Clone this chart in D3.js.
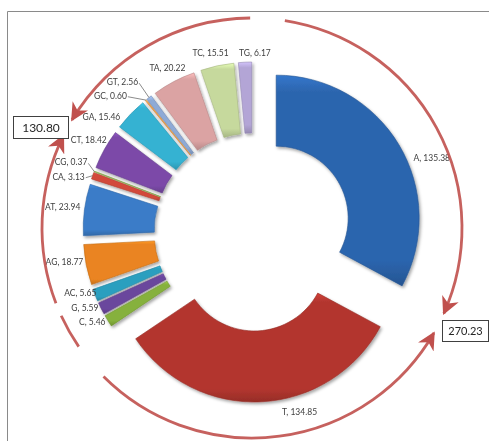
<!DOCTYPE html>
<html><head><meta charset="utf-8">
<script src="https://cdn.jsdelivr.net/npm/d3@7"></script>
<style>html,body{margin:0;padding:0;background:#fff;}svg{display:block;}</style>
</head><body>
<script>
// ---- data ----
const categories = ["A","T","C","G","AC","AG","AT","CA","CG","CT","GA","GC","GT","TA","TC","TG"];
const values = [135.38,134.85,5.46,5.59,5.65,18.77,23.94,3.13,0.37,18.42,15.46,0.60,2.56,20.22,15.51,6.17];
const colors = ["#2c65ae","#b3362f","#86b13c","#6b469d","#2c9fbf","#ea8420","#3a7cc8","#d24a3a",
                "#9bbb59","#7b4aa8","#34b2d2","#f2a24f","#8eaad6","#dba3a3","#c6d99d","#b3a5d6"];
const calloutLabels = ["270.23","130.80"];

// ---- layout ----
const W = 489, H = 441;
const cx = 253, cy = 232, explode = 27, rIn = 72, rOut = 143;
const acx = 252, acy = 228, ar = 210;
const calloutArcs = [
  {from: 9, to: 114, arrow: true},
  {from: 225, to: 120, arrow: true},
  {from: 235.6, to: 245.3, arrow: false},
  {from: 249, to: 296, arrow: true},
  {from: 359.5, to: 301, arrow: true}
];
const labelNudge = {A:[12,15],T:[38,7],C:[0,0],G:[0,-2],AC:[4,-3],AG:[0,-3],AT:[-1,-2],CA:[-5,2],
  CG:[-4,-8],CT:[5,-8],GA:[-8,5],GC:[-17,-2],GT:[-9,-13],TA:[-5,-11],TC:[-6,-10],TG:[10,-6]};
const leaders = ["CA","CG","GC","GT"];

const svg = d3.select("body").append("svg").attr("width", W).attr("height", H);
const defs = svg.append("defs");
const f = defs.append("filter").attr("id","sh").attr("x","-20%").attr("y","-20%").attr("width","140%").attr("height","140%");
f.append("feDropShadow").attr("dx",1.5).attr("dy",2).attr("stdDeviation",1.5)
  .attr("flood-color","#000").attr("flood-opacity",0.35);

const mk = defs.append("marker").attr("id","arr").attr("viewBox","0 0 10 10")
  .attr("refX",9).attr("refY",5).attr("markerWidth",18).attr("markerHeight",18)
  .attr("markerUnits","userSpaceOnUse").attr("orient","auto");
mk.append("path").attr("d","M0,0 L10,5 L0,10 L3,5 Z").attr("fill","#c0504d");

// border
svg.append("line").attr("x1",7.5).attr("y1",11.5).attr("x2",W).attr("y2",11.5).attr("stroke","#8a8a8a");
svg.append("line").attr("x1",7.5).attr("y1",11.5).attr("x2",7.5).attr("y2",H).attr("stroke","#8a8a8a");

// pie
const pie = d3.pie().sort(null).value(d => d).startAngle(0).endAngle(2*Math.PI);
const arcs = pie(values);
const arc = d3.arc().innerRadius(rIn).outerRadius(rOut);
const dir = a => [Math.sin(a), -Math.cos(a)];

arcs.forEach((d,i) => {
  const c = d3.color(colors[i]);
  const g = defs.append("linearGradient").attr("id","g"+i).attr("x1",0).attr("y1",0).attr("x2",0).attr("y2",1);
  g.append("stop").attr("offset","0").attr("stop-color", c.brighter(0.45));
  g.append("stop").attr("offset","0.08").attr("stop-color", c);
  g.append("stop").attr("offset","0.88").attr("stop-color", c);
  g.append("stop").attr("offset","1").attr("stop-color", c.darker(0.5));
});

const gp = svg.append("g").attr("filter","url(#sh)");
arcs.forEach((d,i) => {
  const m = (d.startAngle + d.endAngle)/2;
  const [ux,uy] = dir(m);
  d.sx = cx + explode*ux; d.sy = cy + explode*uy; d.mid = m;
  gp.append("path").attr("d", arc(d))
    .attr("transform", `translate(${d.sx},${d.sy})`)
    .attr("fill", `url(#g${i})`)
    .attr("stroke", d3.color(colors[i]).darker(0.5)).attr("stroke-width",0.6);
});

// labels
const gl = svg.append("g").attr("font-family","Lato, 'Open Sans', sans-serif").attr("font-size","8.5px").attr("fill","#404040");
arcs.forEach((d,i) => {
  const name = categories[i];
  const [ux,uy] = dir(d.mid);
  const px = d.sx + (rOut+3)*ux, py = d.sy + (rOut+3)*uy;
  const s = Math.sin(d.mid);
  const anchor = s < -0.5 ? "end" : (s > 0.5 ? "start" : "middle");
  const [nx,ny] = labelNudge[name];
  const tx = px + nx, ty = py + ny;
  gl.append("text").attr("x",tx).attr("y",ty).attr("dy","0.35em").attr("text-anchor",anchor)
    .text(`${name}, ${values[i].toFixed(2)}`);
  if (leaders.includes(name)) {
    const ex = d.sx + rOut*ux, ey = d.sy + rOut*uy;
    gl.append("line").attr("x1",tx+1).attr("y1",ty+1).attr("x2",ex).attr("y2",ey)
      .attr("stroke","#595959").attr("stroke-width",0.7);
  }
});

// callout arcs
const toRad = deg => (deg - 90) * Math.PI/180;
calloutArcs.forEach(a => {
  const p = d3.path();
  p.arc(acx, acy, ar, toRad(a.from), toRad(a.to), a.to < a.from);
  const el = svg.append("path").attr("d", p.toString()).attr("fill","none")
    .attr("stroke","#c0504d").attr("stroke-width",2.8).attr("stroke-opacity",0.9);
  if (a.arrow) el.attr("marker-end","url(#arr)");
});

// callout boxes
const boxes = [
  {t: calloutLabels[0], x: 442.5, y: 320.5, w: 46, h: 21, fs: 11},
  {t: calloutLabels[1], x: 13.5, y: 116.5, w: 55, h: 22, fs: 12}
];
boxes.forEach(b => {
  svg.append("rect").attr("x",b.x).attr("y",b.y).attr("width",b.w).attr("height",b.h)
    .attr("fill","#fff").attr("stroke","#404040").attr("stroke-width",1);
  svg.append("text").attr("x",b.x+b.w/2).attr("y",b.y+b.h/2).attr("dy","0.35em")
    .attr("text-anchor","middle").attr("font-family","Lato, 'Open Sans', sans-serif")
    .attr("font-size",b.fs+"px").attr("fill","#262626").text(b.t);
});
</script>
</body></html>
